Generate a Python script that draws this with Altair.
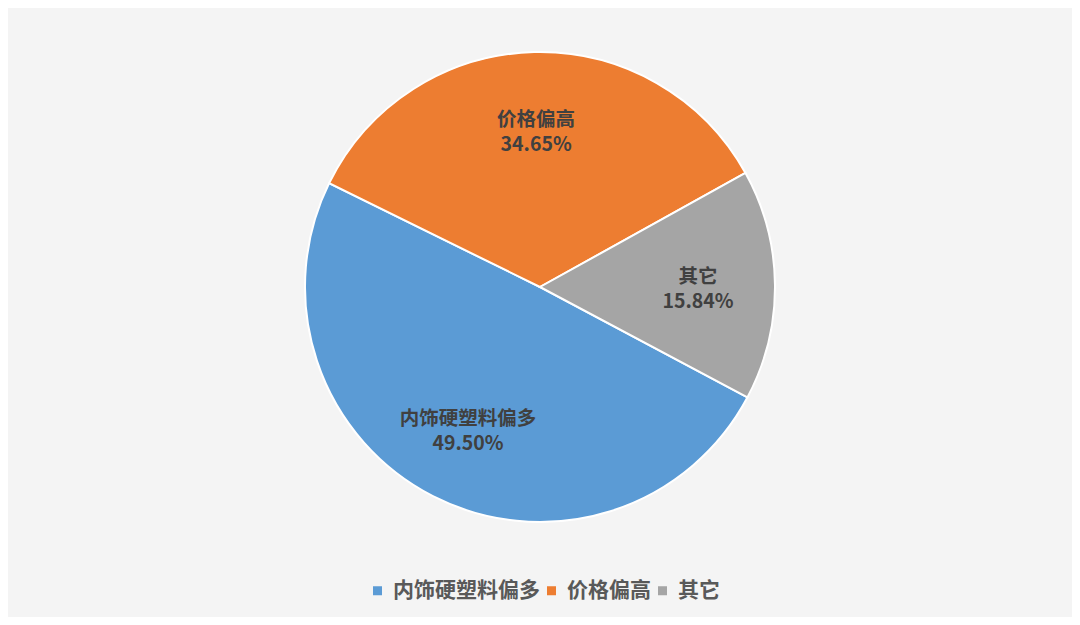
import altair as alt
import pandas as pd
import math

categories = ["内饰硬塑料偏多", "价格偏高", "其它"]
values = [49.50, 34.65, 15.84]
colors = ["#5B9BD5", "#ED7D31", "#A5A5A5"]

df = pd.DataFrame({"category": categories, "value": values, "order": list(range(len(categories)))})

start = math.radians(118.0)
theta_scale = alt.Scale(range=[start, start + 2 * math.pi])
color_scale = alt.Scale(domain=categories, range=colors)

FONT = "Noto Sans CJK SC"
CX, CY = 532, 279

base = alt.Chart(df).encode(
    theta=alt.Theta("value:Q", stack=True, scale=theta_scale),
    order=alt.Order("order:Q"),
)

arcs = base.mark_arc(outerRadius=235, stroke="white", strokeWidth=2).encode(
    color=alt.Color(
        "category:N",
        scale=color_scale,
        sort=categories,
        legend=alt.Legend(
            title=None,
            orient="none",
            direction="horizontal",
            legendX=359,
            legendY=572,
            symbolType="square",
            symbolSize=81,
            symbolStrokeWidth=0,
            labelFont=FONT,
            labelFontSize=21,
            labelFontWeight="bold",
            labelColor="#595959",
            symbolOffset=0,
            labelOffset=5,
            columnPadding=1,
        ),
    ),
    x=alt.value(CX),
    y=alt.value(CY),
)

labels = base.transform_calculate(
    label="datum.category + '\\n' + format(datum.value, '.2f') + '%'"
).mark_text(
    font=FONT,
    fontSize=19.5,
    fontWeight="bold",
    color="#404040",
    lineBreak="\n",
    lineHeight=25,
    align="center",
    baseline="middle",
    dy=-9,
).encode(
    text="label:N",
    radius=alt.value(158),
    x=alt.value(CX),
    y=alt.value(CY),
)

chart = alt.layer(arcs, labels).properties(
    width=1064,
    height=609,
    background="#f4f4f4",
    padding=0,
    autosize=alt.AutoSizeParams(type="none"),
).configure_view(stroke=None)

chart.save("out.html", embed_options={"renderer": "svg", "actions": False})
